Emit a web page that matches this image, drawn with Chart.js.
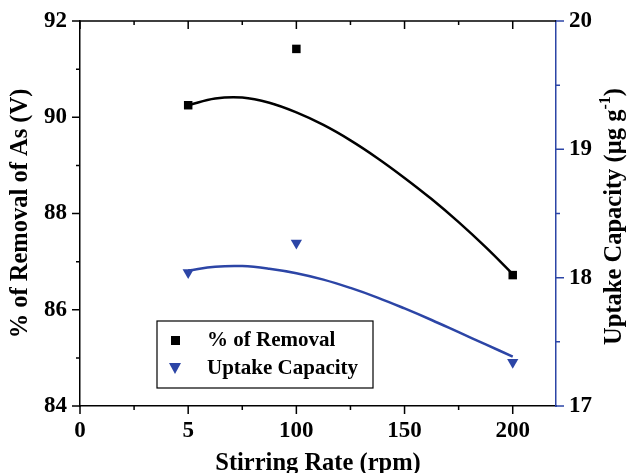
<!DOCTYPE html>
<html>
<head>
<meta charset="utf-8">
<script src="https://cdn.jsdelivr.net/npm/chart.js@4.4.1/dist/chart.umd.min.js"></script>
<style>
  html, body { margin: 0; padding: 0; background: #fff; }
  #wrap { width: 628px; height: 473px; }
</style>
</head>
<body>
<div id="wrap"><canvas id="myChart" width="628" height="473"></canvas></div>
<script>
// measured points
const stirRate = [50, 100, 200];
const removal = [90.25, 91.42, 86.72];
const uptake = [18.04, 18.27, 17.34];

// fitted curves
const fitX = [50, 62.5, 75, 87.5, 100, 112.5, 125, 137.5, 150, 162.5, 175, 187.5, 200];
const removalFit = [90.25, 90.39, 90.41, 90.30, 90.10, 89.84, 89.52, 89.15, 88.74, 88.30, 87.82, 87.30, 86.74];
const uptakeFit = [18.055, 18.085, 18.09, 18.07, 18.035, 17.985, 17.92, 17.845, 17.76, 17.67, 17.575, 17.48, 17.385];

// axes
const xTickVals = [0, 50, 100, 150, 200];
const xTickLabels = ['0', '5', '100', '150', '200'];
const yTickVals = [84, 86, 88, 90, 92];
const y1TickVals = [17, 18, 19, 20];

const blue = '#2c45a6';
const tickFont = { family: 'Liberation Serif', weight: 'bold', size: 23 };
const titleFont = { family: 'Liberation Serif', weight: 'bold', size: 24.5 };

function pts(xs, ys) {
	return xs.map((x, i) => ({ x: x, y: ys[i] }));
}

// minor/major ticks, top frame, right title and legend box
const decorations = {
	id: 'decorations',
	afterDraw(chart) {
		const { ctx, chartArea: a, scales } = chart;
		const x = scales.x, y = scales.y, y1 = scales.y1;
		ctx.save();
		ctx.lineWidth = 1.5;

		ctx.strokeStyle = '#000';
		ctx.beginPath();
		ctx.moveTo(a.left, a.top);
		ctx.lineTo(a.right, a.top);
		for (let v = 0; v <= 200; v += 25) {
			const px = x.getPixelForValue(v);
			const len = v % 50 === 0 ? 8 : 4;
			ctx.moveTo(px, a.bottom);
			ctx.lineTo(px, a.bottom + len);
			ctx.moveTo(px, a.top);
			ctx.lineTo(px, a.top + len);
		}
		for (let v = 84; v <= 92; v += 1) {
			const py = y.getPixelForValue(v);
			const len = v % 2 === 0 ? 8 : 4;
			ctx.moveTo(a.left, py);
			ctx.lineTo(a.left - len, py);
		}
		ctx.stroke();

		ctx.strokeStyle = blue;
		ctx.beginPath();
		for (let v = 17; v <= 20; v += 0.5) {
			const py = y1.getPixelForValue(v);
			const len = v % 1 === 0 ? 8 : 4;
			ctx.moveTo(a.right, py);
			ctx.lineTo(a.right + len, py);
		}
		ctx.stroke();

		// right axis title, reading upwards
		ctx.fillStyle = '#000';
		ctx.translate(615, (a.top + a.bottom) / 2 + 3);
		ctx.rotate(-Math.PI / 2);
		const main = 'Uptake Capacity (\u00b5g g';
		const big = 'bold 24.5px "Liberation Serif"';
		const small = 'bold 16px "Liberation Serif"';
		ctx.font = big;
		const w1 = ctx.measureText(main).width;
		const w3 = ctx.measureText(')').width;
		ctx.font = small;
		const w2 = ctx.measureText('-1').width;
		let sx = -(w1 + w2 + w3) / 2;
		ctx.textBaseline = 'middle';
		ctx.textAlign = 'left';
		ctx.font = big;
		ctx.fillText(main, sx, 0);
		ctx.font = small;
		ctx.fillText('-1', sx + w1, -9);
		ctx.font = big;
		ctx.fillText(')', sx + w1 + w2, 0);
		ctx.setTransform(1, 0, 0, 1, 0, 0);

		// legend
		const lx = a.left + 77, ly = a.top + 300;
		ctx.strokeStyle = '#000';
		ctx.lineWidth = 1.2;
		ctx.strokeRect(lx, ly, 216, 67);
		ctx.fillStyle = '#000';
		ctx.fillRect(lx + 14, ly + 15, 9, 9);
		ctx.fillStyle = blue;
		ctx.beginPath();
		ctx.moveTo(lx + 12, ly + 42);
		ctx.lineTo(lx + 24, ly + 42);
		ctx.lineTo(lx + 18, ly + 53);
		ctx.closePath();
		ctx.fill();
		ctx.fillStyle = '#000';
		ctx.font = 'bold 21px "Liberation Serif"';
		ctx.textBaseline = 'middle';
		ctx.fillText(chart.data.datasets[0].label, lx + 50, ly + 20);
		ctx.fillText(chart.data.datasets[2].label, lx + 50, ly + 48);
		ctx.restore();
	}
};

new Chart('myChart', {
	type: 'scatter',
	data: {
		datasets: [{
			label: '% of Removal',
			data: pts(stirRate, removal),
			yAxisID: 'y',
			pointStyle: 'rect',
			pointRadius: 6,
			backgroundColor: '#000',
			borderColor: '#000',
			borderWidth: 0
		}, {
			label: 'removal fit',
			type: 'line',
			data: pts(fitX, removalFit),
			yAxisID: 'y',
			borderColor: '#000',
			borderWidth: 2.5,
			pointRadius: 0,
			tension: 0.4,
			fill: false
		}, {
			label: 'Uptake Capacity',
			data: pts(stirRate, uptake),
			yAxisID: 'y1',
			pointStyle: 'triangle',
			rotation: 180,
			pointRadius: 6.5,
			backgroundColor: blue,
			borderColor: blue,
			borderWidth: 0
		}, {
			label: 'uptake fit',
			type: 'line',
			data: pts(fitX, uptakeFit),
			yAxisID: 'y1',
			borderColor: blue,
			borderWidth: 2.5,
			pointRadius: 0,
			tension: 0.4,
			fill: false
		}]
	},
	options: {
		responsive: false,
		animation: false,
		layout: { padding: { top: 21, left: 0, right: 0, bottom: 0 } },
		plugins: {
			legend: { display: false },
			tooltip: { enabled: false }
		},
		scales: {
			x: {
				type: 'linear',
				min: 0,
				max: 220,
				afterBuildTicks: s => { s.ticks = xTickVals.map(v => ({ value: v })); },
				afterFit: s => { s.height = 67; },
				grid: { drawOnChartArea: false, color: 'rgba(0,0,0,0)', tickLength: 8 },
				border: { color: '#000', width: 1.5 },
				ticks: {
					color: '#000',
					font: tickFont,
					padding: 3,
					maxRotation: 0,
					callback: v => xTickLabels[xTickVals.indexOf(v)]
				},
				title: { display: true, text: 'Stirring Rate (rpm)', color: '#000', font: titleFont, padding: { top: 0, bottom: -5 } }
			},
			y: {
				position: 'left',
				min: 84,
				max: 92,
				afterBuildTicks: s => { s.ticks = yTickVals.map(v => ({ value: v })); },
				afterFit: s => { s.width = 80; },
				grid: { drawOnChartArea: false, color: 'rgba(0,0,0,0)', tickLength: 8 },
				border: { color: '#000', width: 1.5 },
				ticks: { color: '#000', font: tickFont, padding: 5 },
				title: { display: true, text: '% of Removal of As (V)', color: '#000', font: titleFont, padding: { top: 6, bottom: 0 } }
			},
			y1: {
				position: 'right',
				min: 17,
				max: 20,
				afterBuildTicks: s => { s.ticks = y1TickVals.map(v => ({ value: v })); },
				afterFit: s => { s.width = 72; },
				grid: { drawOnChartArea: false, color: 'rgba(0,0,0,0)', tickLength: 8 },
				border: { color: blue, width: 1.5 },
				ticks: { color: '#000', font: tickFont, padding: 5 }
			}
		}
	},
	plugins: [decorations]
});
</script>
</body>
</html>
